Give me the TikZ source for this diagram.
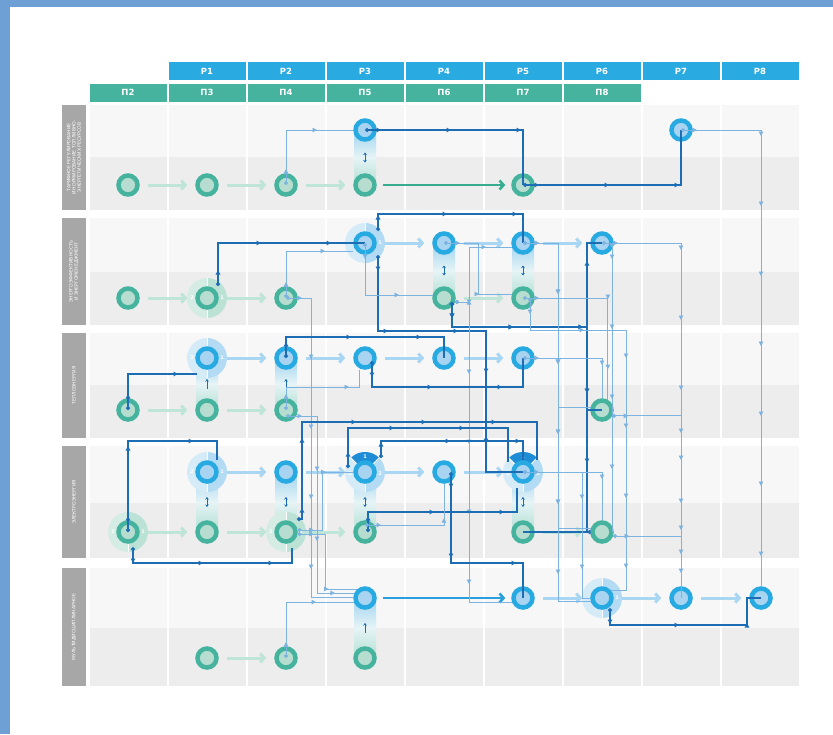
\documentclass[tikz,border=0pt]{standalone}
\usepackage{fontspec}
\setmainfont{DejaVu Sans}
\usetikzlibrary{arrows.meta,calc,decorations.markings}

\definecolor{frameblue}{HTML}{6FA0D5}
\definecolor{rowup}{HTML}{F7F7F7}
\definecolor{rowdn}{HTML}{EDEDED}
\definecolor{headblue}{HTML}{29ABE2}
\definecolor{headteal}{HTML}{45B39D}
\definecolor{sidegrey}{HTML}{A7A7A7}
\definecolor{tealring}{HTML}{45B39D}
\definecolor{tealin}{HTML}{B7DDD0}
\definecolor{bluering}{HTML}{27AAE1}
\definecolor{bluein}{HTML}{A8D3F1}
\definecolor{halobl}{HTML}{D6EBF8}
\definecolor{halobr}{HTML}{B3DBF4}
\definecolor{halotl}{HTML}{D4ECE4}
\definecolor{halotr}{HTML}{BCE2D5}
\definecolor{halodk}{HTML}{1E8DD6}
\definecolor{dkblue}{HTML}{1D6DB5}
\definecolor{ltblue}{HTML}{7DB3E0}
\definecolor{paleteal}{HTML}{BFE4D8}
\definecolor{paleblue}{HTML}{A8D6F3}
\definecolor{boldteal}{HTML}{35AD8E}
\definecolor{boldblue}{HTML}{27A0DD}
\definecolor{barblue}{HTML}{9FD3F0}
\definecolor{barmid}{HTML}{E6F4F6}
\definecolor{barteal}{HTML}{B2DFD2}

\pgfdeclarelayer{grid}
\pgfdeclarelayer{under}
\pgfsetlayers{grid,under,main}

% halo behind a node: left and right half
\newcommand{\halo}[3]{%
  \fill[#2] (#1.center) -- ([shift={(0,-20)}]#1.center) arc[start angle=90,end angle=270,radius=20pt] -- cycle;
  \fill[#3] (#1.center) -- ([shift={(0,-20)}]#1.center) arc[start angle=90,end angle=-90,radius=20pt] -- cycle;
  \draw[white, line width=1pt] ([shift={(0,-20)}]#1.center) -- ([shift={(0,20)}]#1.center);
}
% halo with a dark top segment
\newcommand{\halotop}[1]{%
  \halo{#1}{halobl}{halobr}
  \fill[halodk] (#1.center) -- ([shift={(45:20pt)}]#1.center) arc[start angle=45,end angle=135,radius=20pt] -- cycle;
  \draw[white, line width=1pt] (#1.center) -- ([shift={(45:20pt)}]#1.center);
  \draw[white, line width=1pt] (#1.center) -- ([shift={(135:20pt)}]#1.center);
  \node[hnum] at ([shift={(0,-15)}]#1.center) {1};
  \node[hnum] at ([shift={(15,2)}]#1.center) {2};
  \node[hnum] at ([shift={(-15,2)}]#1.center) {1};
}
% gradient bar between two stacked nodes
\newcommand{\linkbar}[3]{%
  \shade[top color=barblue, bottom color=barteal, middle color=barmid] ([xshift=-11pt]#1.center) rectangle ([xshift=11pt]#2.center);
  \draw[dkblue, line width=0.9pt, #3] ($(#1.center)!0.5!(#2.center)+(0,-5)$) -- ($(#1.center)!0.5!(#2.center)+(0,5)$);
}

\tikzset{
  tn/.style={circle, draw=tealring, fill=tealin, line width=4.5pt, minimum size=19pt, inner sep=0pt},
  bn/.style={circle, draw=bluering, fill=bluein, line width=4.5pt, minimum size=19pt, inner sep=0pt},
  phead/.style={fill=headblue, text=white, font=\bfseries\fontsize{8.5}{9}\selectfont, minimum width=77pt, minimum height=18pt, inner sep=0pt},
  nhead/.style={phead, fill=headteal},
  side/.style={rotate=90, fill=sidegrey, text=white, minimum height=24pt, inner sep=1pt, align=center, font=\fontsize{4.6}{5.3}\selectfont},
  hnum/.style={text=white, font=\bfseries\fontsize{5}{5}\selectfont, inner sep=0pt},
  flow/.style={{Circle[length=4pt]}-, postaction={decorate},
    decoration={markings, mark=between positions 16pt and -12pt step 70pt with {\arrow{Triangle[length=4.5pt,width=4.5pt]}}}},
  dk/.style={dkblue, line width=1.2pt, flow},
  lt/.style={ltblue, line width=0.9pt, flow},
  palet/.style={paleteal, line width=3pt, -{Straight Barb[length=4pt,width=9pt]}},
  paleb/.style={palet, paleblue},
}

\begin{document}
\begin{tikzpicture}[x=1pt, y=-1pt, >={Stealth[length=2.5pt,width=3.5pt]}]
\useasboundingbox (0,0) rectangle (833,734);

\begin{pgfonlayer}{grid}
  \fill[white] (0,0) rectangle (833,734);
  \fill[frameblue] (0,0) rectangle (833,7);
  \fill[frameblue] (0,0) rectangle (10,734);
  \foreach \yt/\ym/\yb in {105/157/210, 218/272/325, 333/385/438, 446/503/558, 568/628/686}{
    \foreach \xl in {90,169,...,722}{
      \fill[rowup] (\xl,\yt) rectangle ({\xl+77},\ym);
      \fill[rowdn] (\xl,\ym) rectangle ({\xl+77},\yb);
    }
  }
\end{pgfonlayer}

% headers
\foreach \i in {1,...,8} \node[phead] (p\i) at ({128+79*\i},71) {Р\i};
\foreach \i in {2,...,8} \node[nhead] (n\i) at ({128+79*(\i-2)},92.5) {П\i};

% section labels
\node[side, minimum width=105pt] (s1) at (74,157.5) {ТАРИФНОЕ РЕГУЛИРОВАНИЕ\\И НОРМИРОВАНИЕ ТОПЛИВНО-\\ЭНЕРГЕТИЧЕСКИХ РЕСУРСОВ};
\node[side, minimum width=107pt] (s2) at (74,271.5) {ЭНЕРГОЭФФЕКТИВНОСТЬ\\И ЭНЕРГОМЕНЕДЖМЕНТ};
\node[side, minimum width=105pt] (s3) at (74,385.5) {ТЕПЛОЭНЕРГИЯ};
\node[side, minimum width=112pt] (s4) at (74,502) {ЭЛЕКТРОЭНЕРГИЯ};
\node[side, minimum width=118pt] (s5) at (74,627) {МУЛЬТИДИСЦИПЛИНАРНОЕ};

% nodes
\node[tn] (a0) at (128,185) {};
\node[tn] (a1) at (207,185) {};
\node[tn] (a2) at (286,185) {};
\node[tn] (a3) at (365,185) {};
\node[bn] (a3t) at (365,130) {};
\node[tn] (a5) at (523,185) {};
\node[bn] (a7t) at (681,130) {};

\node[tn] (b0) at (128,298) {};
\node[tn] (b1) at (207,298) {};
\node[tn] (b2) at (286,298) {};
\node[bn] (b3t) at (365,243) {};
\node[bn] (b4t) at (444,243) {};
\node[tn] (b4) at (444,298) {};
\node[bn] (b5t) at (523,243) {};
\node[tn] (b5) at (523,298) {};
\node[bn] (b6t) at (602,243) {};

\node[tn] (c0) at (128,410) {};
\node[bn] (c1t) at (207,358) {};
\node[tn] (c1) at (207,410) {};
\node[bn] (c2t) at (286,358) {};
\node[tn] (c2) at (286,410) {};
\node[bn] (c3t) at (365,358) {};
\node[bn] (c4t) at (444,358) {};
\node[bn] (c5t) at (523,358) {};
\node[tn] (c6) at (602,410) {};

\node[tn] (d0) at (128,532) {};
\node[bn] (d1t) at (207,472) {};
\node[tn] (d1) at (207,532) {};
\node[bn] (d2t) at (286,472) {};
\node[tn] (d2) at (286,532) {};
\node[bn] (d3t) at (365,472) {};
\node[tn] (d3) at (365,532) {};
\node[bn] (d4t) at (444,472) {};
\node[bn] (d5t) at (523,472) {};
\node[tn] (d5) at (523,532) {};
\node[tn] (d6) at (602,532) {};

\node[bn] (e3t) at (365,598) {};
\node[tn] (e1) at (207,658) {};
\node[tn] (e2) at (286,658) {};
\node[tn] (e3) at (365,658) {};
\node[bn] (e5t) at (523,598) {};
\node[bn] (e6t) at (602,598) {};
\node[bn] (e7t) at (681,598) {};
\node[bn] (e8t) at (761,598) {};

\begin{pgfonlayer}{under}
  % bars
  \linkbar{a3t}{a3}{<->}
  \linkbar{b4t}{b4}{<->}
  \linkbar{b5t}{b5}{<->}
  \linkbar{c1t}{c1}{<-}
  \linkbar{c2t}{c2}{<-}
  \linkbar{d1t}{d1}{<->}
  \linkbar{d2t}{d2}{<->}
  \linkbar{d3t}{d3}{<->}
  \linkbar{d5t}{d5}{<->}
  \linkbar{e3t}{e3}{<-}
  % halos
  \halo{b1}{halotl}{halotr}
  \halo{d0}{halotl}{halotr}
  \halo{d2}{halotl}{halotr}
  \halo{b3t}{halobl}{halobr}
  \halo{c1t}{halobl}{halobr}
  \halo{d1t}{halobl}{halobr}
  \halo{e6t}{halobl}{halobr}
  \halotop{d3t}
  \halotop{d5t}
  \foreach \h in {b1,d0,d2,c1t,d1t}{
    \node[hnum] at ([shift={(-15,0)}]\h.center) {2};
    \node[hnum] at ([shift={(15,0)}]\h.center) {1};
  }
  \foreach \h in {b3t,e6t} \node[hnum] at ([shift={(15,0)}]\h.center) {1};
  % pale arrows
  \foreach \s/\t in {a0/a1,a1/a2,a2/a3,b0/b1,b1/b2,b4/b5,c0/c1,c1/c2,d0/d1,d1/d2,d2/d3,d5/d6,e1/e2}
    \draw[palet] ([shift={(8,0)}]\s.east) -- ([shift={(-8,0)}]\t.west);
  \foreach \s/\t in {b3t/b4t,b4t/b5t,b5t/b6t,c1t/c2t,c2t/c3t,c3t/c4t,c4t/c5t,d1t/d2t,d2t/d3t,d3t/d4t,d4t/d5t,e5t/e6t,e6t/e7t,e7t/e8t}
    \draw[paleb] ([shift={(8,0)}]\s.east) -- ([shift={(-8,0)}]\t.west);
  \draw[palet, boldteal, line width=2.6pt] ([shift={(6,0)}]a3.east) -- ([shift={(-6,0)}]a5.west);
  \draw[palet, boldblue, line width=2.6pt] ([shift={(6,0)}]e3t.east) -- ([shift={(-6,0)}]e5t.west);
\end{pgfonlayer}

% connectors, top section
\draw[lt] (a2.center) |- (a3t.west);
\draw[dk] (a3t.center) -| (a5.center);
\draw[dk] (a5.center) -| (a7t.center);
\draw[lt] (a7t.center) -| (e8t.north);

% second section
\draw[dk] ([shift={(11,-12)}]b1.center) |- (b3t.center);
\draw[lt] (b2.center) |- ([shift={(-12,8)}]b3t.center);
\draw[lt] (b2.center) -- ++(25,0) |- (e3t.178);
\draw[dk] ([shift={(13,-12)}]b3t.center) -- ++(0,-17) -| (b5t.center);
\draw[dk] ([shift={(13,12)}]b3t.center) -- ++(0,76) -- ++(108,0) |- (d5t.center);
\draw[lt] (b3t.center) |- (b4.165);
\draw[dk] ([shift={(8,4)}]b4.center) -- ++(0,25) -- ++(135,0) |- (b6t.center);
\draw[dk] ([shift={(8,4)}]b4.center) -- ++(0,25) -- ++(135,0) |- (c6.center);
\draw[dk] ([shift={(8,4)}]b4.center) -- ++(0,25) -- ++(135,0) |- (d5.center);
\draw[lt] (b4t.center) -- ++(34,0) |- (b5.160);
\draw[lt] ([shift={(11,4)}]b4.center) -- ++(14,0) |- (b5t.200);
\draw[lt] ([shift={(11,4)}]b4.center) -- ++(14,0) |- (e5t.200);
\draw[lt] (b5t.center) -- ++(35,0) |- (e6t.195);
\draw[lt] (b5t.center) -- ++(35,0) |- (c6.165);
\draw[lt] (b5t.center) -- ++(35,0) |- (d6.160);
\draw[lt] (b5.center) -| (c6.60);
\draw[lt] ([shift={(7,0)}]b5.center) -- ++(0,32) -- ++(96,0) |- (e6t.40);
\draw[lt] ([shift={(10,0)}]b6t.center) -- ([shift={(10,0)}]d6.center);
\draw[lt] (b6t.center) -| (e7t.center);

% third section
\draw[dk] (c0.center) |- ([shift={(-10,16)}]c1t.center);
\draw[dk] (c2t.center) -- ++(0,-21) -| (c4t.center);
\draw[lt] (c2.center) -- ++(0,-23) -| ([shift={(-6,0)}]c3t.south);
\draw[lt] ([shift={(0,6)}]c2.center) -- ++(31,0) |- (e3t.155);
\draw[dk] ([shift={(7,3)}]c3t.center) -- ++(0,26) -| (c5t.center);
\draw[lt] (c5t.center) -| (c6.north);
\draw[lt] (c6.-30) -| (e7t.north);

% fourth section
\draw[dk] (d0.center) |- ([shift={(10,-31)}]d1t.center) -- ([shift={(10,-12)}]d1t.center);
\draw[dk] ([shift={(5,15)}]d0.center) -- ++(0,16) -| ([shift={(6,16)}]d2.center);
\draw[dk] ([shift={(11,-13)}]d2.center) -- ++(5,0) |- ([shift={(14,-50)}]d5t.center) -- ([shift={(14,-12)}]d5t.center);
\draw[dk] ([shift={(-17,-4)}]d3t.center) |- ([shift={(-15,-44)}]d5t.center) -- ([shift={(-15,-10)}]d5t.center);
\draw[dk] ([shift={(16,-14)}]d3t.center) -- ++(0,-17) -| (d5t.north);
\draw[dk] ([shift={(3,0)}]d3.center) -- ++(0,-20) -| ([shift={(-6,16)}]d5t.center);
\draw[lt] ([shift={(0,-7)}]d3.center) -| (d4t.south);
\draw[dk] ([shift={(7,0)}]d4t.center) -- ++(0,91) -| (e5t.center);
\draw[lt] (d2.10) -- ++(25,0) |- (d3t.west);
\draw[lt] (d2.-10) -- ++(28,0) |- (e3t.130);
\draw[lt] (d5t.center) -| (d6.north);
\draw[lt] (d5t.center) -- ++(59,0) |- (e6t.west);
\draw[lt] (d6.-20) -| (e7t.north);

% last section
\draw[lt] (e2.center) |- (e3t.200);
\draw[dk] ([shift={(8,10)}]e6t.center) -- ++(0,17) -| ([shift={(-14,0)}]e8t.center) -- (e8t.center);

\end{tikzpicture}
\end{document}
